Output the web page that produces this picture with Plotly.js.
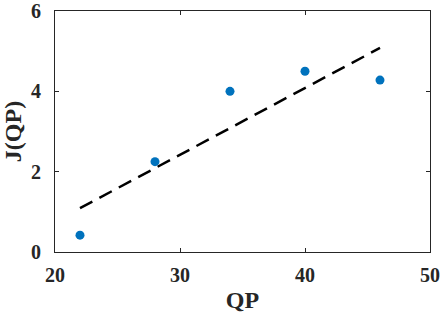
<!DOCTYPE html>
<html>
<head>
<meta charset="utf-8">
<script src="https://cdn.plot.ly/plotly-3.0.1.min.js"></script>
<style>
  body { margin: 0; background: #fff; }
  #chart { width: 445px; height: 325px; }
</style>
</head>
<body>
<div id="chart"></div>
<script>
// measured points
const qp = [22, 28, 34, 40, 46];
const jqp = [0.42, 2.25, 4.0, 4.5, 4.28];

// fitted line ends
const fitX = [22, 46];
const fitY = [1.09, 5.08];

const xTicks = [20, 30, 40, 50];
const yTicks = [0, 2, 4, 6];

const font = { family: 'Liberation Serif, Times New Roman, serif', color: '#262626' };

const axisBase = {
  showline: true,
  linecolor: '#262626',
  linewidth: 1,
  mirror: 'ticks',
  ticks: 'inside',
  ticklen: 4,
  tickwidth: 1,
  tickcolor: '#262626',
  showgrid: false,
  zeroline: false,
  ticklabeloverflow: 'allow',
  tickfont: Object.assign({ size: 20, weight: 'bold' }, font)
};

const fit = {
  x: fitX,
  y: fitY,
  mode: 'lines',
  type: 'scatter',
  line: { color: '#000000', width: 2.5, dash: '14px,8px' },
  hoverinfo: 'skip'
};

const pts = {
  x: qp,
  y: jqp,
  mode: 'markers',
  type: 'scatter',
  marker: { color: '#0072BD', size: 9 }
};

const layout = {
  width: 445,
  height: 325,
  margin: { l: 55, r: 14.5, t: 10.5, b: 73 },
  paper_bgcolor: '#ffffff',
  plot_bgcolor: '#ffffff',
  showlegend: false,
  xaxis: Object.assign({}, axisBase, {
    range: [20, 50],
    tickvals: xTicks,
    ticktext: xTicks.map(String),
    ticklabelstandoff: 5,
    title: { text: 'QP', font: Object.assign({ size: 24, weight: 'bold' }, font), standoff: 6 }
  }),
  yaxis: Object.assign({}, axisBase, {
    range: [0, 6],
    tickvals: yTicks,
    ticktext: yTicks.map(String),
    ticklabelstandoff: 9,
    title: { text: 'J(QP)', font: Object.assign({ size: 24, weight: 'bold' }, font), standoff: 6 }
  })
};

Plotly.newPlot('chart', [fit, pts], layout, { staticPlot: true });
</script>
</body>
</html>
